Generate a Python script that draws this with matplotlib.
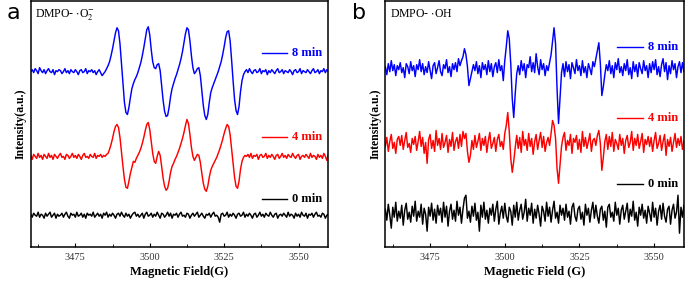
import numpy as np
import matplotlib
matplotlib.use("Agg")
import matplotlib.pyplot as plt
from matplotlib.ticker import MultipleLocator

plt.rcParams['font.family'] = ['Liberation Serif', 'DejaVu Serif']
plt.rcParams['mathtext.fontset'] = 'stix'

# magnetic field axis (G), 0.5 G steps
field = np.arange(3460, 3560.5, 0.5)

# ---- panel a: DMPO-·O2- (intensity, a.u.) ----
a_8min = [0, 2, -1, 3, 1, -2, 4, 1, -1, 2,
          -2, 1, 3, 0, -1, 2, -3, 1, 0, 2,
          1, -2, 0, 3, -1, 1, -2, 2, 0, -1,
          2, 0, -3, 1, 2, -1, 0, 3, -2, 1,
          0, 2, -1, 1, -3, 0, 2, -1, -4, -2,
          0, 3, 6, 10, 16, 23, 31, 39, 44, 41,
          28, 8, -13, -31, -41, -43, -36, -26, -17, -12,
          -8, -5, -1, 4, 9, 16, 24, 33, 42, 45,
          37, 22, 10, 4, 3, 7, 8, 1, -14, -29,
          -40, -45, -44, -36, -25, -17, -12, -7, -3, 2,
          7, 13, 20, 29, 38, 44, 42, 31, 16, 4,
          -2, 0, 3, 4, -4, -19, -34, -44, -48, -43,
          -31, -21, -16, -12, -8, -4, 0, 5, 10, 17,
          25, 34, 40, 41, 31, 12, -9, -28, -39, -43,
          -35, -20, -9, -3, 0, 2, -1, 3, 0, -2,
          1, 2, -1, 0, 3, -2, 1, 0, 2, -3,
          1, -1, 2, 0, -2, 1, 3, -1, 0, 2,
          -2, 1, 0, -1, 2, 0, -3, 1, 2, -1,
          0, 3, -2, 1, 0, -1, 2, 0, -2, 1,
          3, -1, 0, 2, -2, 1, 0, 3, -1, 2,
          0]
a_4min = [1, -3, 2, 0, -2, 3, -1, 1, -3, 2,
          0, -2, 3, -1, 1, -3, 2, 0, -2, 1,
          3, -1, 0, -3, 2, 1, -2, 0, 3, -1,
          1, -2, 2, 0, -3, 1, 3, -1, 0, -2,
          2, 0, -1, 3, -2, 1, 0, 2, -1, 1,
          0, 2, 3, 7, 12, 18, 25, 30, 32, 29,
          19, 4, -10, -23, -31, -32, -25, -17, -11, -5,
          -6, -2, 1, 4, 8, 13, 19, 26, 32, 34,
          27, 15, 3, -5, -7, 0, 5, 1, -10, -22,
          -30, -34, -32, -25, -16, -10, -7, -3, 0, 4,
          8, 13, 18, 24, 31, 37, 33, 22, 9, 0,
          -4, -1, 2, 1, -6, -17, -27, -33, -35, -30,
          -21, -14, -10, -7, -4, -1, 3, 7, 12, 17,
          23, 28, 32, 30, 22, 8, -7, -21, -30, -32,
          -25, -13, -5, -1, 1, 0, 2, -1, 3, -2,
          1, 0, 2, -3, 1, 2, -1, 0, 3, -2,
          1, -1, 2, 0, -3, 1, 2, -2, 0, 3,
          -1, 1, -2, 2, 0, -1, 3, 0, -2, 1,
          2, -3, 0, 1, -1, 2, 0, -2, 3, -1,
          1, 0, -3, 2, -1, 1, -2, 3, 0, -4,
          2]
a_0min = [1, -2, 2, 0, -1, 3, -2, 1, 0, -3,
          2, -1, 1, 3, -2, 0, 2, -3, 1, -1,
          0, 2, -2, 1, 3, -1, -3, 2, 0, 1,
          -2, 3, -1, 0, 2, -2, 1, -3, 2, 0,
          1, -1, 3, -2, 0, 2, -1, 1, -3, 2,
          0, 3, -2, 1, -1, 2, 0, -3, 1, 2,
          -1, 3, 0, -2, 2, -1, 1, -3, 0, 2,
          3, -1, 1, -2, 0, 2, -3, 1, 3, -1,
          0, 2, -2, 1, -1, 3, 0, -3, 2, 1,
          -2, 0, 3, -1, 2, -3, 1, 0, 2, -2,
          1, 3, -1, 0, -2, 2, 1, -3, 0, 2,
          -1, 1, 3, -2, 0, 2, -1, -3, 1, 0,
          2, -2, 1, 3, -1, 0, -2, -7, 1, 2,
          -1, 0, 3, -2, 1, -1, 2, 0, -3, 1,
          2, -1, 0, 3, -2, 1, -1, 2, 0, -3,
          1, 2, -2, 0, 3, -1, 1, -2, 2, 0,
          -1, 3, 0, -2, 1, 2, -3, 0, 1, -1,
          2, 0, -2, 3, -1, 1, 0, -3, 2, -1,
          1, -2, 3, 0, -1, 2, -3, 1, 0, 2,
          -2, 1, 3, -1, 0, -2, 2, 1, -3, 0,
          1]

# ---- panel b: DMPO-·OH ----
b_8min = [2, -6, 5, -3, 8, -2, 4, -7, 3, -1,
          6, -4, 1, -9, 5, 2, -5, 7, -2, 3,
          -8, 4, -1, 9, -3, 5, -6, 2, -4, 7,
          -2, -10, 3, 6, -5, 1, 8, -3, -7, 4,
          0, 9, -4, 2, -8, 5, -1, 6, -3, 10,
          3, 8, 12, 20, 14, 2, -17, -10, -3, 4,
          -2, 7, -5, 3, -9, 6, -1, 4, -6, 8,
          -3, 5, -8, 2, 6, -4, 9, -2, 3, -12,
          8, 22, 38, 30, 5, -30, -49, -25, -5, 3,
          -6, 8, -2, 5, -9, 4, 1, 12, -3, 6,
          -4, 15, 2, -6, 9, -1, 5, -7, 3, -2,
          6, 14, 28, 41, 25, -20, -55, -30, -4, 5,
          -8, 7, -3, 4, -10, 6, 1, -5, 9, -2,
          3, -7, 8, -4, 2, -9, 5, 0, -6, 7,
          2, 10, 18, 26, 5, -27, -18, -6, 4, -2,
          8, -5, 3, -9, 6, -1, 10, -4, 2, -7,
          5, -2, 9, -6, 1, -10, 7, -3, 4, -8,
          6, 0, -5, 8, -2, 3, -9, 5, -4, 7,
          -1, 9, -6, 2, -8, 4, 10, -3, 6, -11,
          3, -5, 8, -1, 5, -9, 2, 7, -4, 6,
          -3]
b_4min = [-3, 6, -8, 2, 9, -5, 1, -10, 4, 7,
          -2, 8, -6, 3, 11, -4, 0, -9, 5, -1,
          7, -7, 2, 12, -3, 6, -10, 1, -20, 4,
          9, -5, 3, -8, 13, -2, 5, -6, 10, -4,
          1, 8, -9, 4, -3, 11, -7, 2, 6, -5,
          9, -3, 12, 5, 10, -8, -19, -12, 3, -6,
          8, -4, 2, 10, -7, 5, -2, 7, -9, 3,
          11, -5, 0, 6, -8, 4, 9, -3, 2, -6,
          10, 18, 31, 12, -15, -29, -18, -4, 8, -5,
          6, -9, 12, -2, 4, -7, 10, -3, 5, -11,
          2, 9, -6, 3, 11, -4, 7, -8, 1, 6,
          -2, 10, 23, 18, 5, -25, -40, -22, -3, 6,
          11, -7, 3, -2, 9, -10, 5, 1, 8, -6,
          4, -9, 12, -3, 6, -5, 2, 10, -8, 3,
          5, -2, 8, 13, 0, -27, -14, 2, 9, -6,
          7, -3, 11, -8, 4, 0, -6, 9, -2, 5,
          -10, 3, 8, -4, 1, 12, -7, 5, -2, 9,
          -5, 2, 10, -9, 4, -1, 7, -3, 6, -8,
          3, 11, -5, 0, 8, -7, 2, 9, -12, 4,
          -3, 6, -8, 1, 10, -4, 5, -2, 7, -6,
          2]
b_0min = [4, -7, 9, -2, -15, 6, -4, 11, -8, 2,
          -5, 8, -12, 3, 10, -6, 1, -9, 7, -3,
          12, -8, 2, -4, 9, -11, 5, -1, -18, 6,
          -3, 10, -7, 4, -10, 8, -2, 5, -9, 11,
          -4, 7, -13, 2, 9, -6, 3, -8, 12, -2,
          6, -10, 4, 15, 18, -5, 2, -9, 7, -3,
          10, -7, 1, -18, 8, -4, 11, -6, 3, -10,
          5, -2, 9, -8, 4, 12, -11, 0, 7, -5,
          10, -3, -9, 6, 2, -12, 8, -4, 11, -7,
          3, 9, -6, 1, 14, -8, 5, -2, 10, -10,
          4, -5, 8, -1, -13, 7, 2, -8, 11, -3,
          6, -9, 3, 12, -5, 1, -10, 8, -2, 5,
          -7, 9, -4, 2, -11, 6, 10, -3, -8, 4,
          7, -6, 1, -12, 9, -2, 5, -9, 3, 11,
          -5, 8, -3, -10, 4, 7, -7, 2, -14, 6,
          9, -4, 1, -8, 11, -2, 5, -11, 3, 8,
          -6, 2, 10, -9, 4, -3, 12, -7, 1, -13,
          6, -2, 9, -5, 3, -10, 7, 0, -8, 11,
          -4, 5, -12, 2, 8, -6, 10, -3, -9, 4,
          7, -11, 3, 9, -5, 1, 18, -20, 6, -4,
          8]

labels = ['8 min', '4 min', '0 min']
colors = ['#0000ff', '#ff0000', '#000000']

panels = [
    dict(ax_rect=[0.0448, 0.136, 0.4345, 0.861], series=[a_8min, a_4min, a_0min],
         offsets=[176, 91, 32], tag='a', tag_x=0.010,
         title='DMPO- $\\cdot$O$_2^{-}$', xlabel='Magnetic Field(G)',
         leg_y=[0.789, 0.447, 0.195]),
    dict(ax_rect=[0.5625, 0.136, 0.436, 0.861], series=[b_8min, b_4min, b_0min],
         offsets=[179, 104, 34], tag='b', tag_x=0.514,
         title='DMPO- $\\cdot$OH', xlabel='Magnetic Field (G)',
         leg_y=[0.813, 0.524, 0.256]),
]

fig = plt.figure(figsize=(6.85, 2.86), dpi=100)

for p in panels:
    ax = fig.add_axes(p['ax_rect'])
    for vals, off, c in zip(p['series'], p['offsets'], colors):
        ax.plot(field, np.array(vals) + off, color=c, lw=1.05)
    ax.set_xlim(3460, 3560)
    ax.set_ylim(0, 247)
    ax.xaxis.set_major_locator(MultipleLocator(25))
    ax.xaxis.set_minor_locator(MultipleLocator(12.5))
    ax.tick_params(axis='x', which='both', direction='in', labelsize=7.5,
                   labelcolor='#333333', pad=4)
    ax.tick_params(axis='x', which='major', length=3)
    ax.tick_params(axis='x', which='minor', length=2)
    ax.set_yticks([])
    for s in ax.spines.values():
        s.set_linewidth(1.1)
    ax.set_xlabel(p['xlabel'], fontsize=9, fontweight='bold', labelpad=3)
    ax.set_ylabel('Intensity(a.u.)', fontsize=8.5, fontweight='bold', labelpad=3)
    ax.text(0.015, 0.945, p['title'], transform=ax.transAxes, fontsize=8.5,
            va='center', ha='left')
    for ly, lab, c in zip(p['leg_y'], labels, colors):
        ax.plot([0.777, 0.862], [ly, ly], color=c, lw=1.0, transform=ax.transAxes)
        ax.text(0.878, ly, lab, color=c, fontsize=9, fontweight='bold',
                transform=ax.transAxes, va='center', ha='left')
    fig.text(p['tag_x'], 0.955, p['tag'], fontsize=16, family='DejaVu Sans',
             va='center', ha='left')

fig.savefig('out.png', dpi=100)
